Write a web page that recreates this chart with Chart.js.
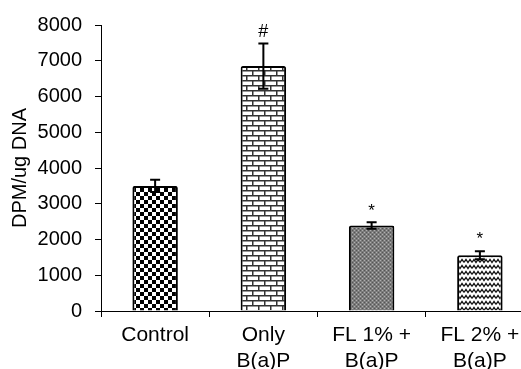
<!DOCTYPE html>
<html>
<head>
<meta charset="utf-8">
<script src="https://cdn.jsdelivr.net/npm/chart.js@4"></script>
<style>
  html, body { margin: 0; padding: 0; background: #fff; overflow: hidden; }
  #wrap { width: 534px; height: 369px; }
</style>
</head>
<body>
<div id="wrap"><canvas id="chart"></canvas></div>
<script>
'use strict';

// ── Data ──────────────────────────────────────────────────────────────────────
const CATEGORIES = [['Control'], ['Only', 'B(a)P'], ['FL 1% +', 'B(a)P'], ['FL 2% +', 'B(a)P']];
const MEANS = [3500, 6850, 2390, 1560];
const ERRORS = [170, 630, 90, 110];
const MARKS = ['', '#', '*', '*'];
const Y_TICKS = [0, 1000, 2000, 3000, 4000, 5000, 6000, 7000, 8000];

const FONT = 'Liberation Sans, Arial, sans-serif';

// ── Fill patterns ─────────────────────────────────────────────────────────────
function makeTile(w, h, draw) {
  const c = document.createElement('canvas');
  c.width = w; c.height = h;
  const g = c.getContext('2d');
  draw(g);
  return document.getElementById('chart').getContext('2d').createPattern(c, 'repeat');
}

const checker = makeTile(8, 8, g => {
  g.fillStyle = '#fff'; g.fillRect(0, 0, 8, 8);
  g.fillStyle = '#000'; g.fillRect(0, 0, 4, 4); g.fillRect(4, 4, 4, 4);
});

const brick = makeTile(12, 10, g => {
  g.fillStyle = '#fff'; g.fillRect(0, 0, 12, 10);
  g.fillStyle = '#333';
  g.fillRect(0, 0, 12, 1.5); g.fillRect(0, 5, 12, 1.5);
  g.fillRect(0, 0, 1.5, 5); g.fillRect(6, 5, 1.5, 5);
});

const dotted = makeTile(4, 4, g => {
  g.fillStyle = '#7c7c7c'; g.fillRect(0, 0, 4, 4);
  g.fillStyle = '#b0b0b0'; g.fillRect(0, 0, 1, 1); g.fillRect(2, 2, 1, 1);
  g.fillStyle = '#555'; g.fillRect(2, 0, 1, 1); g.fillRect(0, 2, 1, 1);
});

const waves = makeTile(8, 6, g => {
  g.fillStyle = '#fff'; g.fillRect(0, 0, 8, 6);
  g.strokeStyle = '#111'; g.lineWidth = 1.3;
  g.beginPath();
  g.moveTo(0, 4.5); g.lineTo(2, 1.5); g.lineTo(4, 4.5); g.lineTo(6, 1.5); g.lineTo(8, 4.5);
  g.stroke();
});

const FILLS = [checker, brick, dotted, waves];

// ── Error bars + significance marks ───────────────────────────────────────────
const errorBars = {
  id: 'errorBars',
  afterDatasetsDraw(chart) {
    const ctx = chart.ctx;
    const y = chart.scales.y;
    const meta = chart.getDatasetMeta(0);
    ctx.save();
    ctx.strokeStyle = '#000';
    ctx.lineWidth = 2;
    meta.data.forEach((bar, i) => {
      const x = bar.x;
      const top = y.getPixelForValue(MEANS[i] + ERRORS[i]);
      const bot = y.getPixelForValue(MEANS[i] - ERRORS[i]);
      ctx.beginPath();
      ctx.moveTo(x, top); ctx.lineTo(x, bot);
      ctx.moveTo(x - 5, top); ctx.lineTo(x + 5, top);
      ctx.moveTo(x - 5, bot); ctx.lineTo(x + 5, bot);
      ctx.stroke();
      if (MARKS[i]) {
        ctx.fillStyle = '#000';
        ctx.textAlign = 'center';
        ctx.textBaseline = 'bottom';
        ctx.font = (MARKS[i] === '#' ? '18px ' : '17px ') + FONT;
        ctx.fillText(MARKS[i], x, top - 3);
      }
    });
    ctx.restore();
  },
};

// ── Chart ─────────────────────────────────────────────────────────────────────
new Chart(document.getElementById('chart'), {
  type: 'bar',
  data: {
    labels: CATEGORIES,
    datasets: [{
      data: MEANS,
      backgroundColor: FILLS,
      borderColor: '#000',
      borderWidth: 2,
      borderRadius: 2,
      borderSkipped: 'bottom',
      barPercentage: 0.42,
      categoryPercentage: 1,
    }],
  },
  options: {
    responsive: true,
    maintainAspectRatio: false,
    animation: false,
    layout: { padding: { top: 25, right: 0, left: 0, bottom: 0 } },
    plugins: { legend: { display: false }, tooltip: { enabled: false } },
    scales: {
      x: {
        grid: {
          display: true,
          drawOnChartArea: false,
          drawTicks: true,
          tickLength: 6,
          color: '#000',
          offset: true,
        },
        border: { color: '#000', width: 1 },
        ticks: {
          color: '#000',
          font: { family: FONT, size: 21, lineHeight: 1.2 },
          maxRotation: 0,
          padding: 6,
        },
        afterFit(scale) { scale.height = 58; },
      },
      y: {
        min: 0,
        max: 8000,
        afterBuildTicks(scale) { scale.ticks = Y_TICKS.map(v => ({ value: v })); },
        grid: {
          display: true,
          drawOnChartArea: false,
          drawTicks: true,
          tickLength: 6,
          color: '#000',
        },
        border: { color: '#000', width: 1 },
        ticks: {
          color: '#000',
          font: { family: FONT, size: 20 },
          padding: 13,
          callback: v => String(v),
        },
        title: {
          display: true,
          text: 'DPM/ug DNA',
          color: '#000',
          font: { family: FONT, size: 20 },
          padding: { top: 8, bottom: 2 },
        },
        afterFit(scale) { scale.width = 101; },
      },
    },
  },
  plugins: [errorBars],
});
</script>
</body>
</html>
